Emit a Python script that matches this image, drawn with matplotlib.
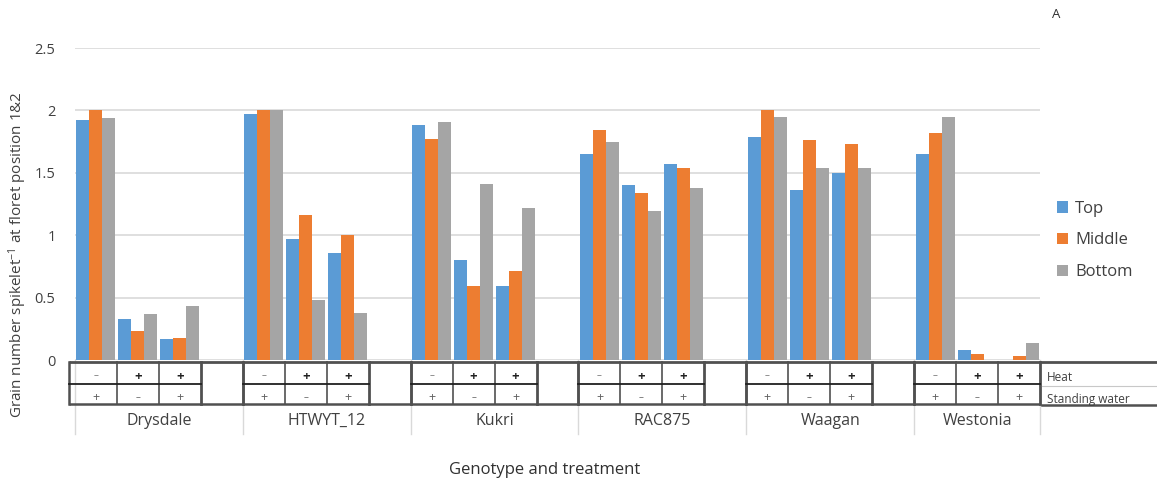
import matplotlib
matplotlib.use("Agg")
import matplotlib.pyplot as plt
from matplotlib.transforms import blended_transform_factory
import numpy as np

genotypes = ["Drysdale", "HTWYT_12", "Kukri", "RAC875", "Waagan", "Westonia"]
series = ["Top", "Middle", "Bottom"]
# values per genotype, 3 treatments each (Heat-/SW+, Heat+/SW-, Heat+/SW+)
top = [1.92, 0.33, 0.17,
       1.97, 0.97, 0.86,
       1.88, 0.80, 0.59,
       1.65, 1.40, 1.57,
       1.79, 1.36, 1.50,
       1.65, 0.08, 0.00]
middle = [2.00, 0.23, 0.18,
          2.00, 1.16, 1.00,
          1.77, 0.59, 0.71,
          1.84, 1.34, 1.54,
          2.00, 1.76, 1.73,
          1.82, 0.05, 0.03]
bottom = [1.94, 0.37, 0.43,
          2.00, 0.48, 0.38,
          1.91, 1.41, 1.22,
          1.75, 1.19, 1.38,
          1.95, 1.54, 1.54,
          1.95, 0.00, 0.14]
heat = ["–", "+", "+"]
standing_water = ["+", "–", "+"]
yticks = [0, 0.5, 1, 1.5, 2, 2.5]

colors = ["#5B9BD5", "#ED7D31", "#A5A5A5"]
W, H = 1157, 490
fig = plt.figure(figsize=(W / 100, H / 100), dpi=100)
plt.rcParams['font.family'] = ['Open Sans', 'DejaVu Sans']
plt.rcParams['mathtext.fontset'] = 'custom'
plt.rcParams['mathtext.rm'] = 'Open Sans'
plt.rcParams['mathtext.it'] = 'Open Sans'

def fy(py):
    return 1 - py / H

def fxp(px):
    return px / W

ax = fig.add_axes([fxp(75), fy(360), fxp(1040) - fxp(75), fy(48) - fy(360)])
nslots = len(genotypes) * 4 - 1
ax.set_xlim(-0.5, nslots - 0.5)
ax.set_ylim(0, 2.5)

slots = []
for g in range(len(genotypes)):
    for k in range(3):
        slots.append(4 * g + k)
slots = np.array(slots)
bw = 0.31
for i, (vals, name, c) in enumerate(zip([top, middle, bottom], series, colors)):
    ax.bar(slots + (i - 1) * bw, vals, width=bw, color=c, label=name, zorder=3)

ax.set_yticks(yticks)
ax.set_yticklabels([f"{t:g}" for t in yticks], fontsize=10.5, color="#404040")
ax.yaxis.grid(True, color="#d9d9d9", linewidth=1.2, zorder=0)
ax.set_axisbelow(True)
ax.tick_params(axis='y', length=0, pad=14)
ax.set_xticks([])
for s in ax.spines.values():
    s.set_visible(False)

fig.text(fxp(18), fy(255), "Grain number spikelet$^{-1}$ at floret position 1&2",
         fontsize=11, color="#404040", rotation=90, ha="center", va="center")

leg = ax.legend(loc="upper left", bbox_to_anchor=(fxp(1050), fy(194)),
                bbox_transform=fig.transFigure, frameon=False, fontsize=12,
                handlelength=0.7, handleheight=0.7, handletextpad=0.4,
                labelspacing=0.95, borderaxespad=0)
for t in leg.get_texts():
    t.set_color("#404040")

# table below axis
tr = blended_transform_factory(ax.transData, fig.transFigure)
y_top, y_mid, y_bot = fy(362), fy(384), fy(404)
line_dark = "#505050"

# light category separators
for g in range(len(genotypes) + 1):
    xs = 4 * g - 0.5 if g < len(genotypes) else nslots - 0.5
    ax.plot([xs, xs], [fy(360), fy(434)], transform=tr, color="#d9d9d9",
            lw=1.0, clip_on=False, zorder=1)

left_x = -0.65
ax.plot([left_x, nslots - 0.5], [y_top, y_top], transform=tr, color=line_dark,
        lw=2.0, clip_on=False, zorder=5, solid_capstyle='butt')
ax.plot([left_x, nslots - 0.5], [y_bot, y_bot], transform=tr, color=line_dark,
        lw=1.8, clip_on=False, zorder=5, solid_capstyle='butt')
fig.add_artist(plt.Line2D([fxp(1040), 1], [y_top, y_top], color=line_dark, lw=2.0))
fig.add_artist(plt.Line2D([fxp(1042), 1], [fy(405), fy(405)], color=line_dark, lw=1.8))
fig.add_artist(plt.Line2D([fxp(1042), 1], [fy(386), fy(386)], color="#c8c8c8", lw=0.8))

for g in range(len(genotypes)):
    base = 4 * g
    gl = left_x if g == 0 else base - 0.5
    bounds = [gl, base + 0.5, base + 1.5, base + 2.5]
    widths = [1.8, 1.2, 1.2, 2.0]
    if g < len(genotypes) - 1:
        bounds.append(base + 3.5)
        widths.append(1.8)
    for xb, lw in zip(bounds, widths):
        ax.plot([xb, xb], [y_top, y_bot], transform=tr, color=line_dark, lw=lw,
                clip_on=False, zorder=5)
    ax.plot([gl, base + 2.5], [y_mid, y_mid], transform=tr, color="#202020",
            lw=1.3, clip_on=False, zorder=5)
    for k in range(3):
        hs = heat[k]
        ax.text(base + k, fy(376), hs, transform=tr, ha="center", va="center",
                fontsize=9.5 if hs == "+" else 7, fontweight="bold" if hs == "+" else "normal",
                color="#202020" if hs == "+" else "#707070", clip_on=False)
        ss = standing_water[k]
        ax.text(base + k, fy(398), ss, transform=tr, ha="center", va="center",
                fontsize=9 if ss == "+" else 7, color="#606060", clip_on=False)
    center = base + 1.5 if g < len(genotypes) - 1 else base + 1.0
    ax.text(center, fy(421), genotypes[g], transform=tr, ha="center", va="center",
            fontsize=11.5, color="#404040")

fig.text(fxp(1047), fy(377), "Heat", fontsize=8.5, color="#404040", va="center")
fig.text(fxp(1047), fy(399), "Standing water", fontsize=8.5, color="#404040", va="center")

fig.text(fxp(545), fy(470), "Genotype and treatment", fontsize=12,
         color="#303030", ha="center", va="center")
fig.text(fxp(1056), fy(15), "A", fontsize=9.5, color="#303030", ha="center", va="center")

fig.savefig("out.png", dpi=100)
